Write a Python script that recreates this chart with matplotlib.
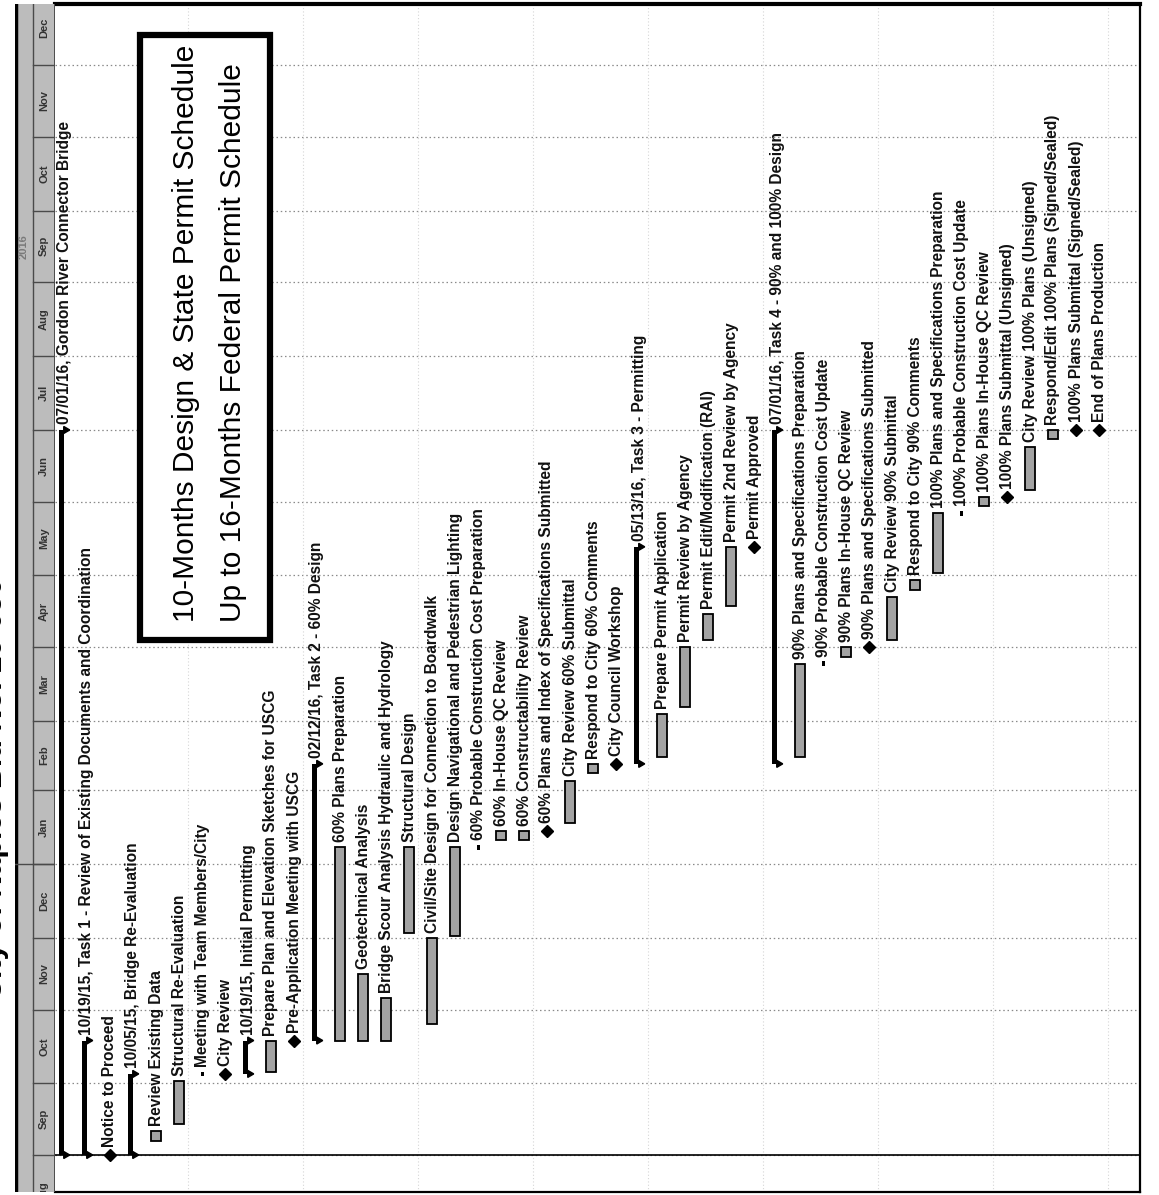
import matplotlib
matplotlib.use('Agg')
import matplotlib.pyplot as plt
import matplotlib.dates as mdates
from matplotlib.patches import Rectangle, Polygon

plt.rcParams['font.family'] = ['Liberation Sans Narrow', 'Liberation Sans', 'DejaVu Sans']

W, H = 1159, 1195

# ---- schedule data (one entry per row of the gantt) ----
task_names = [
    '07/01/16, Gordon River Connector Bridge',
    '10/19/15, Task 1 - Review of Existing Documents and Coordination',
    'Notice to Proceed',
    '10/05/15, Bridge Re-Evaluation',
    'Review Existing Data',
    'Structural Re-Evaluation',
    'Meeting with Team Members/City',
    'City Review',
    '10/19/15, Initial Permitting',
    'Prepare Plan and Elevation Sketches for USCG',
    'Pre-Application Meeting with USCG',
    '02/12/16, Task 2 - 60% Design',
    '60% Plans Preparation',
    'Geotechnical Analysis',
    'Bridge Scour Analysis Hydraulic and Hydrology',
    'Structural Design',
    'Civil/Site Design for Connection to Boardwalk',
    'Design Navigational and Pedestrian Lighting',
    '60% Probable Construction Cost Preparation',
    '60% In-House QC Review',
    '60% Constructability Review',
    '60% Plans and Index of Specifications Submitted',
    'City Review 60% Submittal',
    'Respond to City 60% Comments',
    'City Council Workshop',
    '05/13/16, Task 3 - Permitting',
    'Prepare Permit Application',
    'Permit Review by Agency',
    'Permit Edit/Modification (RAI)',
    'Permit 2nd Review by Agency',
    'Permit Approved',
    '07/01/16, Task 4 - 90% and 100% Design',
    '90% Plans and Specifications Preparation',
    '90% Probable Construction Cost Update',
    '90% Plans In-House QC Review',
    '90% Plans and Specifications Submitted',
    'City Review 90% Submittal',
    'Respond to City 90% Comments',
    '100% Plans and Specifications Preparation',
    '100% Probable Construction Cost Update',
    '100% Plans In-House QC Review',
    '100% Plans Submittal (Unsigned)',
    'City Review 100% Plans (Unsigned)',
    'Respond/Edit 100% Plans (Signed/Sealed)',
    '100% Plans Submittal (Signed/Sealed)',
    'End of Plans Production',
]

# S = summary, T = task, M = milestone, I = one-day task
task_kinds = ['S', 'S', 'M', 'S', 'T', 'T', 'I', 'M', 'S', 'T', 'M',
              'S', 'T', 'T', 'T', 'T', 'T', 'T', 'I', 'T', 'T', 'M', 'T', 'T', 'M',
              'S', 'T', 'T', 'T', 'T', 'M',
              'S', 'T', 'I', 'T', 'M', 'T', 'T', 'T', 'I', 'T', 'M', 'T', 'T', 'M', 'M']

task_starts = [
    '2015-09-01', '2015-09-01', '2015-09-01', '2015-09-01', '2015-09-07', '2015-09-14',
    '2015-10-05', '2015-10-05', '2015-10-05', '2015-10-06', '2015-10-19',
    '2015-10-19', '2015-10-19', '2015-10-19', '2015-10-19', '2015-12-03', '2015-10-26',
    '2015-12-02', '2016-01-08', '2016-01-11', '2016-01-11', '2016-01-15', '2016-01-18',
    '2016-02-08', '2016-02-12',
    '2016-02-12', '2016-02-15', '2016-03-07', '2016-04-04', '2016-04-18', '2016-05-13',
    '2016-02-12', '2016-02-15', '2016-03-25', '2016-03-28', '2016-04-01', '2016-04-04',
    '2016-04-25', '2016-05-02', '2016-05-27', '2016-05-30', '2016-06-03', '2016-06-06',
    '2016-06-27', '2016-07-01', '2016-07-01',
]

task_ends = [
    '2016-07-01', '2015-10-19', '2015-09-01', '2015-10-05', '2015-09-11', '2015-10-02',
    '2015-10-05', '2015-10-05', '2015-10-19', '2015-10-19', '2015-10-19',
    '2016-02-12', '2016-01-08', '2015-11-16', '2015-11-06', '2016-01-08', '2015-12-01',
    '2016-01-08', '2016-01-08', '2016-01-15', '2016-01-15', '2016-01-15', '2016-02-05',
    '2016-02-12', '2016-02-12',
    '2016-05-13', '2016-03-04', '2016-04-01', '2016-04-15', '2016-05-13', '2016-05-13',
    '2016-07-01', '2016-03-25', '2016-03-25', '2016-04-01', '2016-04-01', '2016-04-22',
    '2016-04-29', '2016-05-27', '2016-05-27', '2016-06-03', '2016-06-03', '2016-06-24',
    '2016-07-01', '2016-07-01', '2016-07-01',
]

month_labels = ['Aug', 'Sep', 'Oct', 'Nov', 'Dec', 'Jan', 'Feb', 'Mar', 'Apr', 'May',
                'Jun', 'Jul', 'Aug', 'Sep', 'Oct', 'Nov', 'Dec']
month_starts = ['2015-08-01', '2015-09-01', '2015-10-01', '2015-11-01', '2015-12-01',
                '2016-01-01', '2016-02-01', '2016-03-01', '2016-04-01', '2016-05-01',
                '2016-06-01', '2016-07-01', '2016-08-01', '2016-09-01', '2016-10-01',
                '2016-11-01', '2016-12-01', '2017-01-01']
year_label = '2016'
year_label_at = '2016-09-16'
year_start = '2016-01-01'
project_start = '2015-09-01'

title = 'City of Naples Bid No. 16-050'
box_lines = ['10-Months Design & State Permit Schedule',
             'Up to 16-Months Federal Permit Schedule']


def dnum(s):
    return mdates.datestr2num(s)


# ---- layout (pixels of the 1159x1195 page) ----
px_row = 23.0
row0_px = 64.0
px_day = 2.385
origin_px = 1155.0          # y pixel of the project start
left_px, right_px = 55.0, 1140.0
top_px, bottom_px = 4.0, 1192.0

fig = plt.figure(figsize=(W / 100, H / 100), dpi=100)
fig.patch.set_facecolor('white')

ax = fig.add_axes([left_px / W, (H - bottom_px) / H,
                   (right_px - left_px) / W, (bottom_px - top_px) / H])
org = dnum(project_start)
ylo = org - (bottom_px - origin_px) / px_day
yhi = org + (origin_px - top_px) / px_day
ax.set_xlim((left_px - row0_px) / px_row, (right_px - row0_px) / px_row)
ax.set_ylim(ylo, yhi)
ax.set_xticks([])
ax.set_yticks([])
ax.spines['left'].set_visible(False)
ax.spines['right'].set_linewidth(1.6)
ax.spines['bottom'].set_linewidth(1.6)
ax.spines['top'].set_linewidth(3)

# gridlines
for m in month_starts:
    ax.axhline(dnum(m), color='#8a8a8a', lw=0.9, ls=(0, (1.2, 2.2)), zorder=0)
for k in range(1, 10):
    ax.axvline(5 * k + 0.4, color='#d6d6d6', lw=0.8, ls=(0, (1, 2)), zorder=0)
ax.axhline(org, color='black', lw=1.2, zorder=1)

bar_w = 10 / px_row
sum_w = 5 / px_row
tri_a = 3.5 / px_day
tri_t = 6 / px_row
gap = 5 / px_day

for i, (name, kind, s, e) in enumerate(zip(task_names, task_kinds, task_starts, task_ends)):
    y0, y1 = dnum(s), dnum(e)
    if kind == 'S':
        xc = i - 0.12
        ax.bar(xc, y1 - y0, width=sum_w, bottom=y0, color='black', zorder=3)
        for yy in (y0, y1):
            ax.add_patch(Polygon([(xc + sum_w / 2, yy - tri_a), (xc + sum_w / 2, yy + tri_a),
                                  (xc + sum_w / 2 + tri_t, yy)], closed=True,
                                 color='black', zorder=3))
        ty = y1 + tri_a + 2 / px_day
    elif kind == 'T':
        ax.bar(i, y1 - y0, width=bar_w, bottom=y0, color='#a3a3a3',
               edgecolor='black', linewidth=1.3, zorder=3)
        ty = y1 + gap
    elif kind == 'I':
        ax.bar(i, 2.0, width=3 / px_row, bottom=y1 - 1.0, color='black', zorder=3)
        ty = y1 + 7 / px_day
    else:
        ax.plot(i, y1, marker='D', ms=6.5, color='black', zorder=4)
        ty = y1 + 8 / px_day
    ax.text(i, ty, name, rotation=90, rotation_mode='anchor', ha='left', va='center',
            fontsize=11.2, fontweight='bold', color='#111111', zorder=5)

# ---- timescale strip on the left ----
axs = fig.add_axes([15 / W, (H - bottom_px) / H, (left_px - 15) / W, (bottom_px - top_px) / H])
axs.set_xlim(0, left_px - 15)
axs.set_ylim(ylo, yhi)
axs.set_facecolor('#bcbcbc')
axs.set_xticks([])
axs.set_yticks([])
for sp in axs.spines.values():
    sp.set_visible(False)
axs.axvline(0.8, color='black', lw=2.5)
axs.axvline(18, color='#4a4a4a', lw=1.0)
axs.axvline(left_px - 15 - 0.5, color='#3a3a3a', lw=1.2)
for j, lab in enumerate(month_labels):
    m0, m1 = dnum(month_starts[j]), dnum(month_starts[j + 1])
    axs.plot([18, 40], [m0, m0], color='#4a4a4a', lw=1.0)
    axs.text(29, (m0 + m1) / 2, lab, rotation=90, ha='center', va='center',
             fontsize=8, fontweight='bold', color='#333333', clip_on=True)
axs.plot([0, 40], [dnum(year_start)] * 2, color='#4a4a4a', lw=1.0)
axs.text(9, dnum(year_label_at), year_label, rotation=90, ha='center', va='center',
         fontsize=8, fontweight='bold', color='#7a7a7a')

# clipped heading on the page edge
fig.text(9 / W, (H - 1000) / H, title, rotation=90, rotation_mode='anchor',
         ha='left', va='bottom', fontsize=22, fontweight='bold', color='black')

# schedule note box
fig.add_artist(Rectangle((140 / W, (H - 640) / H), 130 / W, 605 / H,
                         transform=fig.transFigure, facecolor='white',
                         edgecolor='black', lw=4.5, zorder=6))
for k, line in enumerate(box_lines):
    fig.text((186 + 47 * k) / W, (H - 622) / H, line, rotation=90, rotation_mode='anchor',
             ha='left', va='center', fontsize=21.5, family=['Liberation Sans', 'DejaVu Sans'],
             color='black', zorder=7)

fig.savefig('out.png', dpi=100)
